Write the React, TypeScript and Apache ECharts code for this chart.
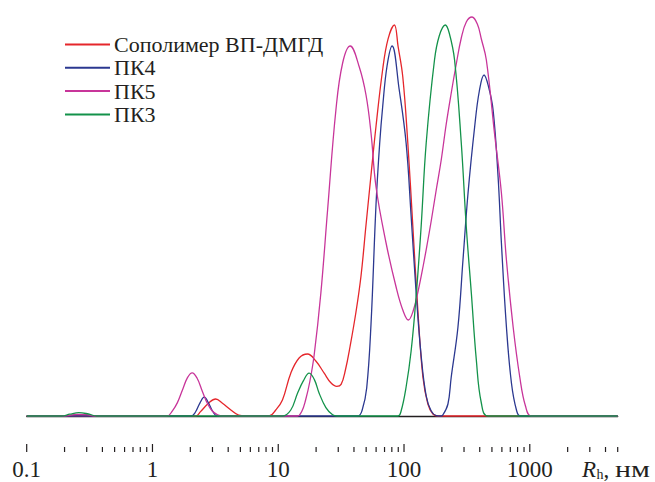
import React, { useEffect, useRef } from "react";
import * as echarts from "echarts";

// Rh, nm (log axis) and intensity (arbitrary units, 0..100)
const seriesNames = ["Сополимер ВП-ДМГД", "ПК4", "ПК5", "ПК3"];
const seriesColors = ["#e5262b", "#2b3890", "#c8359a", "#13924a"];

const copolymerData: [number, number][] = [
  [0.1, 0], [2.2, 0], [2.41, 1.1], [2.79, 3.2], [3.18, 4.25], [3.6, 3.2], [4.2, 1.5], [4.84, 0.2], [5.5, 0],
  [8.45, 0], [9.55, 1.5], [10.8, 4], [12.58, 10.7], [14.65, 14.5], [17.09, 15.5], [19.9, 13.75], [23.19, 10.7],
  [26.2, 8.3], [29.2, 7.4], [31.6, 7.9], [34.2, 11.5], [37.3, 17.5], [41.5, 26], [45.5, 35], [49.87, 47.75],
  [54.65, 60.25], [59.92, 72.5], [67.74, 86.75], [74.7, 94.3], [83.8, 97.75], [89.7, 92.4], [97.8, 84.75],
  [107.2, 68.25], [117.6, 47.25], [128.8, 26.5], [141.3, 9.75], [154.8, 3], [169.7, 0.5], [187, 0], [5000, 0],
];

const pk4Data: [number, number][] = [
  [0.1, 0], [2.03, 0], [2.198, 1.0], [2.388, 3.3], [2.579, 4.7], [2.792, 3.25], [3.005, 1.2], [3.293, 0],
  [42.8, 0], [46.5, 1.5], [50.5, 7], [54.65, 23], [59.92, 53], [64, 68], [67.74, 77.5], [73.3, 87.5], [80.4, 92.5],
  [91.4, 81.75], [103.9, 68.25], [113.9, 50], [124.9, 30.75], [136.9, 15], [150.1, 5], [164.5, 1.25], [180.3, 0.1],
  [194, 0], [203.9, 0.3], [223.5, 3], [237.4, 9.75], [268.5, 22.25], [294.3, 39], [322.9, 55.75], [364.3, 72.25],
  [397, 81.25], [432.9, 85.25], [468.5, 82.5], [510.7, 76.5], [559.8, 59.75], [594.8, 43.25], [652, 22.25],
  [714.6, 8.25], [783.4, 1.5], [842.9, 0], [5000, 0],
];

const pk5Data: [number, number][] = [
  [0.1, 0], [0.2, 0], [0.25, 0.4], [0.3, 0.35], [0.35, 0],
  [1.307, 0], [1.441, 1.3], [1.579, 3.35], [1.731, 6.5], [1.898, 9.6], [2.069, 10.8], [2.26, 9.5], [2.477, 6.4],
  [2.716, 3.3], [2.977, 1.3], [3.293, 0.3], [3.609, 0],
  [14.2, 0], [15.4, 1.2], [16.5, 4], [17.8, 8.5], [19.3, 15.25], [21.82, 30.75], [24.68, 51.5], [28.74, 76.5],
  [32.51, 88.25], [37.37, 92.5], [44.09, 87.25], [49.87, 80.25], [54.65, 70.75], [59.92, 57.25], [72.0, 43.25],
  [86.5, 32.25], [97.8, 26.5], [108.4, 24], [118.2, 26.25], [129.5, 31.25], [142, 37.5], [152.9, 43],
  [164.5, 48.75], [180.3, 56.5], [197.6, 64], [216.6, 73], [237.4, 80.75], [260.3, 88], [285.3, 94.5],
  [312.7, 98.5], [347.3, 99.75], [382.8, 98], [411.9, 94.25], [451.5, 89], [526, 70.25], [594.8, 55.75],
  [652, 39], [737.3, 22.25], [832.4, 9.75], [924, 2.5], [1031.8, 0], [5000, 0],
];

const pk3Data: [number, number][] = [
  [0.1, 0], [0.19, 0], [0.22, 0.45], [0.26, 0.85], [0.31, 0.5], [0.36, 0],
  [10.8, 0], [12.58, 1.5], [14.23, 5.7], [15.83, 8.8], [17.6, 10.7], [19.37, 9.1], [21.15, 5.7], [23.92, 2.1],
  [27.05, 0.3], [29.27, 0],
  [89.3, 0], [94.8, 1.25], [103.9, 7.25], [113.9, 16.25], [124.9, 30], [136.9, 47.5], [150.1, 68.25],
  [174.7, 89], [190.5, 95], [212.7, 97.75], [228.8, 95.75], [252.3, 89], [285.3, 68.25], [312.7, 47.25],
  [342.9, 30.75], [375.8, 14], [411.9, 3.25], [466, 0], [5000, 0],
];

const allData = [copolymerData, pk4Data, pk5Data, pk3Data];

const xMin = 0.1;
const xMax = 5000;
const yMin = -9;
const yMax = 100;

const majorTicks = [0.1, 1, 10, 100, 1000];
const minorTicks = [
  0.2, 0.3, 0.4, 0.5, 0.6, 0.7, 0.8, 0.9,
  2, 3, 4, 5, 6, 7, 8, 9,
  20, 30, 40, 50, 60, 70, 80, 90,
  200, 300, 400, 500, 600, 700, 800, 900,
  2000, 3000, 4000, 5000,
];

const FONT = "'Liberation Serif', 'Times New Roman', serif";
const AXIS_COLOR = "#231f20";

export default function App() {
  const ref = useRef<HTMLDivElement>(null);

  useEffect(() => {
    if (!ref.current) return;
    const chart = echarts.init(ref.current, null, { renderer: "svg" });

    const tickSeries = (values: number[], len: number, name: string) => ({
      type: "custom",
      name,
      silent: true,
      clip: false,
      z: 5,
      data: values.map((v) => [v, yMin]),
      renderItem: (_params: any, api: any) => {
        const p = api.coord([api.value(0), api.value(1)]);
        return {
          type: "line",
          shape: { x1: p[0], y1: p[1], x2: p[0], y2: p[1] - len },
          style: { stroke: AXIS_COLOR, lineWidth: 1.2 },
        };
      },
    });

    const option: any = {
      animation: false,
      grid: { left: 26.7, right: 37.3, top: 16, bottom: 30, containLabel: false },
      legend: {
        orient: "vertical",
        left: 60,
        top: 28,
        data: seriesNames,
        icon: "rect",
        itemWidth: 45,
        itemHeight: 2,
        itemGap: 0.3,
        textStyle: {
          fontFamily: FONT,
          fontSize: 22,
          color: AXIS_COLOR,
          lineHeight: 23,
          padding: [0, 0, 0, -1],
        },
      },
      xAxis: {
        type: "log",
        logBase: 10,
        min: xMin,
        max: xMax,
        axisLine: { show: true, lineStyle: { color: AXIS_COLOR, width: 1.3 } },
        axisTick: { show: false },
        splitLine: { show: false },
        axisLabel: {
          show: true,
          margin: 6,
          fontFamily: FONT,
          fontSize: 23,
          color: AXIS_COLOR,
          showMaxLabel: false,
          formatter: (v: number) => {
            const m = majorTicks.find((t) => Math.abs(Math.log10(v) - Math.log10(t)) < 1e-6);
            if (m === undefined) return "";
            return m < 1 ? "0.1" : String(m);
          },
        },
      },
      yAxis: {
        type: "value",
        min: yMin,
        max: yMax,
        show: false,
      },
      graphic: [
        {
          type: "text",
          x: 582,
          y: 458,
          style: { text: "R", font: `italic 23px ${FONT}`, fill: AXIS_COLOR, verticalAlign: "top" },
        },
        {
          type: "text",
          x: 596.5,
          y: 467,
          style: { text: "h", font: `14px ${FONT}`, fill: AXIS_COLOR, verticalAlign: "top" },
        },
        {
          type: "text",
          x: 603.5,
          y: 458,
          style: { text: ",", font: `23px ${FONT}`, fill: AXIS_COLOR, verticalAlign: "top" },
        },
        {
          type: "text",
          x: 615,
          y: 458,
          scaleX: 1.3,
          style: { text: "нм", font: `23px ${FONT}`, fill: AXIS_COLOR, verticalAlign: "top" },
        },
      ],
      series: [
        ...seriesNames.map((name, i) => ({
          type: "line",
          name,
          data: allData[i],
          showSymbol: false,
          symbol: "none",
          smooth: 0.4,
          lineStyle: { color: seriesColors[i], width: 1.3 },
          itemStyle: { color: seriesColors[i] },
          z: 2 + i * 0.01,
        })),
        tickSeries(majorTicks, 8, "majorTicks"),
        tickSeries(minorTicks, 5, "minorTicks"),
      ],
    };

    chart.setOption(option);
    return () => chart.dispose();
  }, []);

  return (
    <div
      ref={ref}
      style={{ position: "absolute", left: 0, top: 0, width: 655, height: 482 }}
    />
  );
}
